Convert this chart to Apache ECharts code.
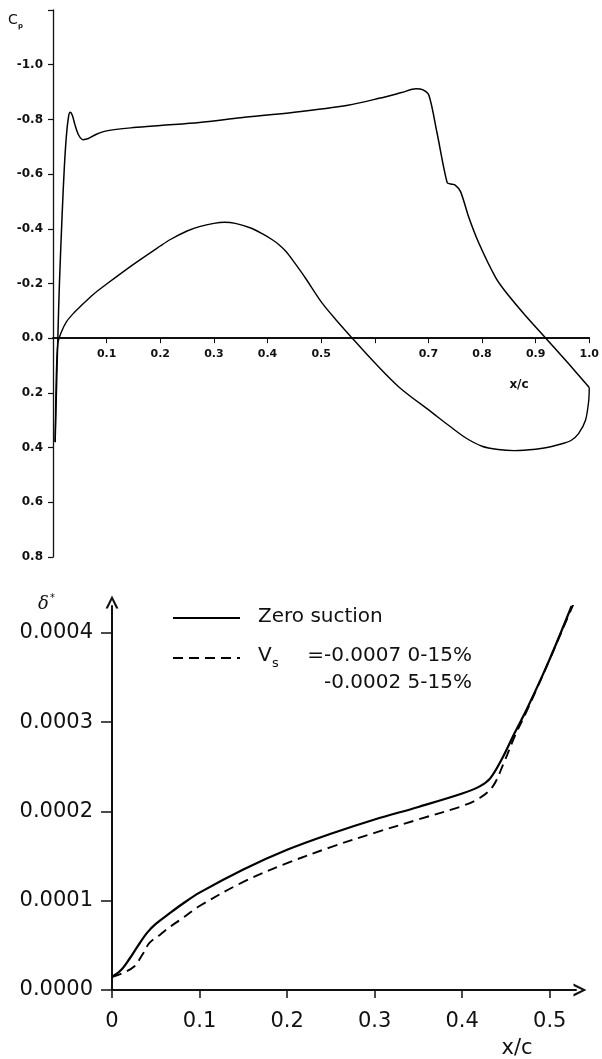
<!DOCTYPE html>
<html><head><meta charset="utf-8">
<script src="https://cdn.jsdelivr.net/npm/echarts@6/dist/echarts.min.js"></script>
<style>html,body{margin:0;padding:0;background:#fff}#c{width:602px;height:1059px}</style>
</head><body><div id="c"></div>
<script>
// ---- Top chart: pressure coefficient Cp vs x/c ----
const cpUpperX = [0.004,0.007,0.009,0.012,0.017,0.021,0.025,0.029,0.032,0.036,0.041,0.048,0.056,0.066,0.08,0.1,0.15,0.2,0.273,0.35,0.45,0.55,0.608,0.65,0.677,0.69,0.701,0.716,0.735,0.742,0.75,0.76,0.775,0.794,0.826,0.85,0.88,0.919,0.96,1.0];
const cpUpperY = [0.38,0.15,0.0,-0.2,-0.45,-0.62,-0.74,-0.81,-0.826,-0.815,-0.78,-0.742,-0.726,-0.73,-0.745,-0.758,-0.77,-0.778,-0.789,-0.806,-0.826,-0.852,-0.877,-0.898,-0.912,-0.908,-0.888,-0.752,-0.569,-0.564,-0.56,-0.536,-0.444,-0.348,-0.22,-0.155,-0.085,0.0,0.09,0.18];
const cpLowerX = [0.004,0.006,0.009,0.015,0.025,0.04,0.05,0.075,0.1,0.15,0.2,0.218,0.25,0.273,0.3,0.32,0.34,0.37,0.39,0.409,0.422,0.435,0.45,0.47,0.502,0.53,0.558,0.6,0.646,0.707,0.74,0.77,0.8,0.83,0.86,0.9,0.93,0.949,0.966,0.98,0.993,0.999,1.0];
const cpLowerY = [0.38,0.15,0.02,-0.02,-0.06,-0.095,-0.114,-0.16,-0.198,-0.27,-0.337,-0.36,-0.392,-0.408,-0.42,-0.424,-0.42,-0.402,-0.382,-0.36,-0.341,-0.316,-0.277,-0.222,-0.128,-0.062,0.0,0.09,0.18,0.272,0.322,0.365,0.395,0.407,0.411,0.406,0.396,0.386,0.374,0.349,0.3,0.228,0.18];
const cpXLabels = [0.1,0.2,0.3,0.4,0.5,0.7,0.8,0.9,1.0];
const cpYLabels = [-1.0,-0.8,-0.6,-0.4,-0.2,0.0,0.2,0.4,0.6,0.8];

// ---- Bottom chart: displacement thickness delta* vs x/c ----
const dsZeroX = [0,0.01,0.02,0.03,0.04,0.05,0.066,0.08,0.1,0.15,0.2,0.25,0.3,0.35,0.4,0.42,0.432,0.445,0.46,0.475,0.498,0.525];
const dsZero  = [0.0000146,0.000022,0.000035,0.00005,0.000064,0.000074,0.000086,0.000096,0.000109,0.000135,0.000157,0.000175,0.000191,0.000205,0.00022,0.000228,0.000237,0.000258,0.000288,0.000317,0.000366,0.00043];
const dsSuctX = [0,0.01,0.025,0.035,0.043,0.055,0.066,0.08,0.1,0.15,0.2,0.25,0.3,0.35,0.4,0.42,0.435,0.447,0.46,0.475,0.498,0.527];
const dsSuct  = [0.0000146,0.000018,0.000026,0.00004,0.000053,0.000062,0.0000706,0.00008,0.000094,0.000121,0.000142,0.00016,0.000176,0.000191,0.000206,0.000215,0.000228,0.000253,0.000284,0.000315,0.000366,0.000432];
const dsXLabels = [0,0.1,0.2,0.3,0.4,0.5];
const dsYLabels = [0,0.0001,0.0002,0.0003,0.0004];

const has = (arr, v) => arr.some(a => Math.abs(a - v) < 1e-9);
const arrowPath = 'path://M0,12 L6,0 L12,12 L9.8,12 L6,4.2 L2.2,12 Z';
const topFontY = {fontFamily:'DejaVu Sans', fontWeight:'bold', fontSize:12, color:'#111'};
const topFontX = {fontFamily:'DejaVu Sans', fontWeight:'bold', fontSize:11, color:'#111'};
const botFont = {fontFamily:'DejaVu Sans', fontSize:21, color:'#111'};

const topGrid = {left:53, top:10, width:537, height:547};
const zeroOffset = -(topGrid.height * 0.8 / 2.0);

const chart = echarts.init(document.getElementById('c'), null, {renderer:'canvas'});
chart.setOption({
  backgroundColor:'#fff',
  animation:false,
  grid:[
    topGrid,
    {left:112, top:606, width:464, height:384}
  ],
  xAxis:[
    {gridIndex:0, type:'value', min:0, max:1.0, interval:0.1, offset:zeroOffset,
     axisLine:{onZero:false, lineStyle:{color:'#111', width:1.8}},
     axisTick:{show:true, length:5, lineStyle:{color:'#111', width:1}},
     axisLabel:{margin:10, ...topFontX, formatter:v => has(cpXLabels, v) ? v.toFixed(1) : ''},
     splitLine:{show:false}},
    {gridIndex:1, type:'value', min:0, max:0.53, interval:0.1,
     axisLine:{onZero:false, lineStyle:{color:'#111', width:2}, symbol:['none', arrowPath], symbolSize:[13,15], symbolOffset:[0,4]},
     axisTick:{show:true, length:8, lineStyle:{color:'#111', width:1.5}, customValues:dsXLabels},
     axisLabel:{margin:21, ...botFont, customValues:dsXLabels, formatter:v => has(dsXLabels, v) ? (v===0 ? '0' : v.toFixed(1)) : ''},
     splitLine:{show:false}}
  ],
  yAxis:[
    {gridIndex:0, type:'value', inverse:true, min:-1.2, max:0.8, interval:0.2,
     axisLine:{show:true, onZero:false, lineStyle:{color:'#111', width:1.3}},
     axisTick:{show:true, length:5, lineStyle:{color:'#111', width:1.2}},
     axisLabel:{margin:10, ...topFontY, formatter:v => has(cpYLabels, v) ? v.toFixed(1) : ''},
     splitLine:{show:false}},
    {gridIndex:1, type:'value', min:0, max:0.00043, interval:0.0001,
     axisLine:{show:true, onZero:false, lineStyle:{color:'#111', width:2}, symbol:['none', arrowPath], symbolSize:[13,15], symbolOffset:[0,4]},
     axisTick:{show:true, length:11, lineStyle:{color:'#111', width:1.5}, customValues:dsYLabels},
     axisLabel:{margin:19, ...botFont, customValues:dsYLabels, formatter:v => has(dsYLabels, v) ? v.toFixed(4) : ''},
     splitLine:{show:false}}
  ],
  series:[
    {name:'Cp upper', type:'line', xAxisIndex:0, yAxisIndex:0, showSymbol:false, smooth:0.3,
     lineStyle:{color:'#000', width:1.5}, data:cpUpperX.map((x,i)=>[x, cpUpperY[i]])},
    {name:'Cp lower', type:'line', xAxisIndex:0, yAxisIndex:0, showSymbol:false, smooth:0.3,
     lineStyle:{color:'#000', width:1.4}, data:cpLowerX.map((x,i)=>[x, cpLowerY[i]])},
    {name:'Zero suction', type:'line', xAxisIndex:1, yAxisIndex:1, showSymbol:false, smooth:0.35,
     lineStyle:{color:'#000', width:2.2}, data:dsZeroX.map((x,i)=>[x, dsZero[i]])},
    {name:'Vs suction', type:'line', xAxisIndex:1, yAxisIndex:1, showSymbol:false, smooth:0.35,
     lineStyle:{color:'#000', width:1.9, type:[10,6]}, data:dsSuctX.map((x,i)=>[x, dsSuct[i]])}
  ],
  graphic:[
    // top chart labels
    {type:'text', left:8, top:13, style:{text:'C', font:'14px "DejaVu Sans"', fill:'#111'}},
    {type:'text', left:18, top:23, style:{text:'p', font:'bold 7px "DejaVu Sans"', fill:'#111'}},
    {type:'text', x:519, y:385, style:{text:'x/c', font:'bold 12px "DejaVu Sans"', fill:'#111', align:'center', verticalAlign:'middle'}},
    // bottom chart labels
    {type:'text', x:38, y:604, style:{text:'δ', font:'italic 18px "DejaVu Serif"', fill:'#111', verticalAlign:'middle'}},
    {type:'text', x:50, y:598, style:{text:'*', font:'10px "DejaVu Sans"', fill:'#111', verticalAlign:'middle'}},
    {type:'text', x:517, y:1049, style:{text:'x/c', font:'21px "DejaVu Sans"', fill:'#111', align:'center', verticalAlign:'middle'}},
    // legend
    {type:'line', shape:{x1:173, y1:618, x2:240, y2:618}, style:{stroke:'#000', lineWidth:2.2}},
    {type:'text', x:258, y:617, style:{text:'Zero suction', font:'20px "DejaVu Sans"', fill:'#111', verticalAlign:'middle'}},
    {type:'line', shape:{x1:173, y1:658, x2:240, y2:658}, style:{stroke:'#000', lineWidth:1.9, lineDash:[10,6]}},
    {type:'text', x:258, y:656, style:{text:'V', font:'20px "DejaVu Sans"', fill:'#111', verticalAlign:'middle'}},
    {type:'text', x:272, y:664, style:{text:'s', font:'13px "DejaVu Sans"', fill:'#111', verticalAlign:'middle'}},
    {type:'text', x:472, y:656, style:{text:'=-0.0007 0-15%', font:'20px "DejaVu Sans"', fill:'#111', align:'right', verticalAlign:'middle'}},
    {type:'text', x:472, y:683, style:{text:'-0.0002 5-15%', font:'20px "DejaVu Sans"', fill:'#111', align:'right', verticalAlign:'middle'}}
  ]
});
</script>
</body></html>
